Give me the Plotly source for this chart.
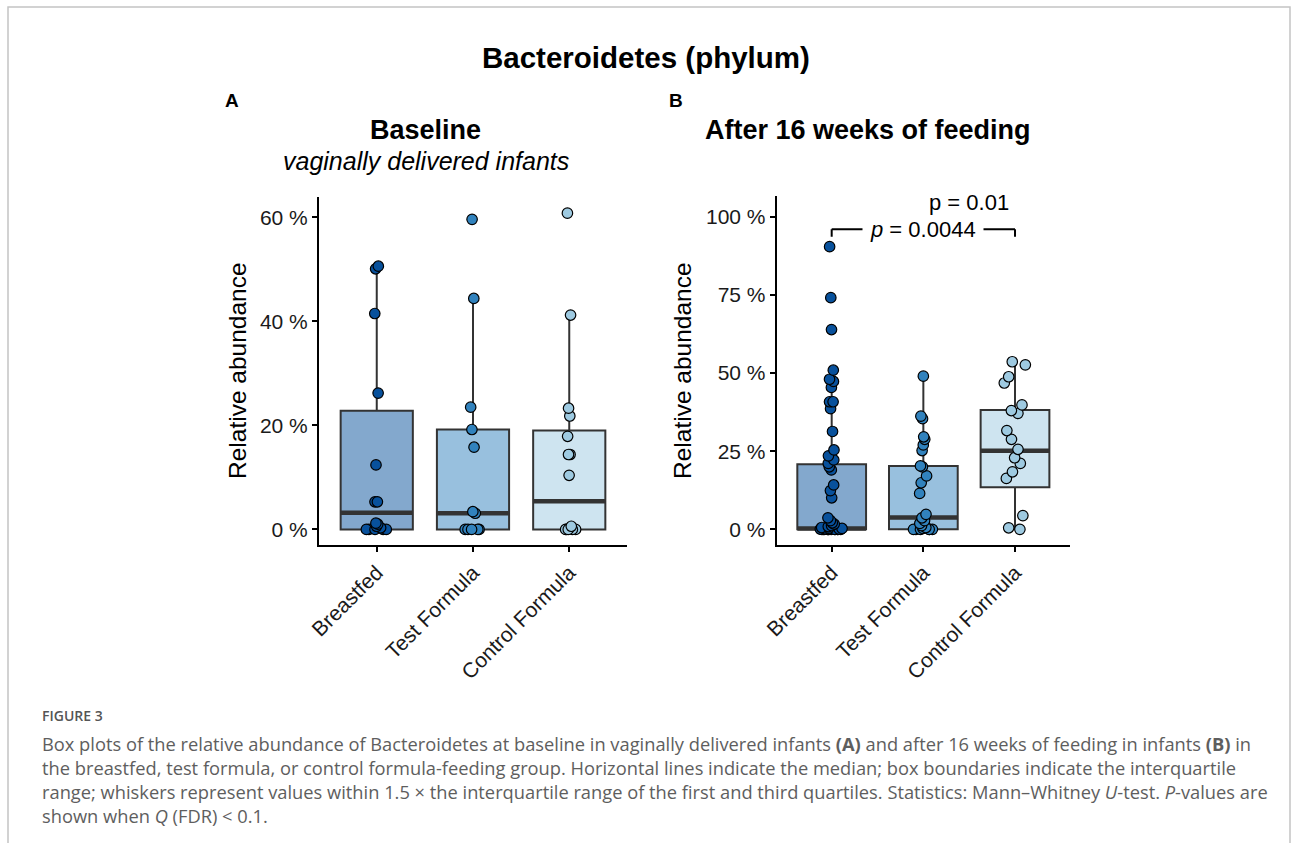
import plotly.graph_objects as go

W, H = 1293, 843

categories = ["Breastfed", "Test Formula", "Control Formula"]
point_colors = ["#08519c", "#3182bd", "#9ecae1"]
fill_colors = ["rgba(8,81,156,0.5)", "rgba(49,130,189,0.5)", "rgba(158,202,225,0.5)"]

# Panel A (baseline) - relative abundance (%)
a_breastfed = [50.1, 50.6, 41.5, 26.2, 12.4, 5.3, 5.3, 1.2, 1.0, 0.6, 0.3, 0, 0, 0, 0, 0]
a_test = [59.6, 44.4, 23.5, 19.2, 15.8, 3.1, 3.4, 0, 0, 0, 0, 0]
a_control = [60.8, 41.2, 23.3, 21.8, 17.9, 14.4, 14.4, 10.4, 0.6, 0, 0, 0, 0, 0]
a_q1 = [0, 0, 0]
a_median = [3.2, 3.1, 5.4]
a_q3 = [22.8, 19.2, 19.0]
a_lower = [0, 0, 0]
a_upper = [50.6, 44.4, 41.2]

# Panel B (after 16 weeks)
b_breastfed = [90.4, 74.1, 63.9, 50.9, 48.0, 47.3, 45.4, 40.8, 40.8, 38.6, 31.3, 25.4,
               23.5, 22.2, 21.1, 20.0, 19.0, 14.2, 12.4, 10.1, 3.7, 2.8, 2.1, 1.7,
               1.2, 0.9, 0.6, 0.4, 0.3, 0.2, 0.1, 0.1, 0, 0, 0, 0, 0, 0, 0, 0, 0, 0, 0, 0]
b_test = [49.0, 36.2, 35.4, 29.6, 28.8, 27.0, 25.2, 20.3, 20.0, 17.1, 14.9, 11.5,
          4.8, 3.7, 2.8, 1.9, 1.2, 0.6, 0.3, 0, 0, 0, 0, 0, 0]
b_control = [53.6, 52.6, 48.8, 46.8, 39.8, 38.0, 37.1, 31.6, 28.8, 25.6, 22.9, 21.1,
             18.4, 16.3, 4.4, 0.5, 0]
b_q1 = [0, 0, 13.5]
b_median = [0.3, 3.8, 25.1]
b_q3 = [20.8, 20.3, 38.2]
b_lower = [0, 0, 0]
b_upper = [50.9, 49.0, 53.6]

a_ticks = [0, 20, 40, 60]
a_ticktext = ["0 %", "20 %", "40 %", "60 %"]
b_ticks = [0, 25, 50, 75, 100]
b_ticktext = ["0 %", "25 %", "50 %", "75 %", "100 %"]

sig_label = "<i>p</i> = 0.0044"
sig_y = 96.0
sig_tick = 93.6
top_label = "p = 0.01"
top_label_y = 104.5

caption_head = "FIGURE 3"
caption_lines = [
    "Box plots of the relative abundance of Bacteroidetes at baseline in vaginally delivered infants <b>(A)</b> and after 16 weeks of feeding in infants <b>(B)</b> in",
    "the breastfed, test formula, or control formula-feeding group. Horizontal lines indicate the median; box boundaries indicate the interquartile",
    "range; whiskers represent values within 1.5 \u00d7 the interquartile range of the first and third quartiles. Statistics: Mann\u2013Whitney <i>U</i>-test. <i>P</i>-values are",
    "shown when <i>Q</i> (FDR) &lt; 0.1.",
]

FONT = "Liberation Sans, Arial, sans-serif"
CAP_FONT = "Open Sans, sans-serif"


def px(x):
    return x / W


def py(y):
    return 1 - y / H


fig = go.Figure()

panels = [
    ("x", "y", [a_breastfed, a_test, a_control], a_q1, a_median, a_q3, a_lower, a_upper),
    ("x2", "y2", [b_breastfed, b_test, b_control], b_q1, b_median, b_q3, b_lower, b_upper),
]

for xa, ya, groups, q1, med, q3, lo, hi in panels:
    for i, cat in enumerate(categories):
        fig.add_trace(go.Box(
            x=[cat], q1=[q1[i]], median=[med[i]], q3=[q3[i]],
            lowerfence=[lo[i]], upperfence=[hi[i]],
            xaxis=xa, yaxis=ya, width=0.75, whiskerwidth=0,
            fillcolor=fill_colors[i], line=dict(color="#333333", width=2),
            boxpoints=False, showlegend=False, hoverinfo="skip"))
        fig.add_trace(go.Box(
            x=[cat], q1=[med[i]], median=[med[i]], q3=[med[i]],
            lowerfence=[med[i]], upperfence=[med[i]],
            xaxis=xa, yaxis=ya, width=0.75, whiskerwidth=0,
            fillcolor="rgba(0,0,0,0)", line=dict(color="#333333", width=4.5),
            boxpoints=False, showlegend=False, hoverinfo="skip"))
        fig.add_trace(go.Box(
            x=[cat] * len(groups[i]), y=groups[i],
            xaxis=xa, yaxis=ya, width=0.75, whiskerwidth=0,
            fillcolor="rgba(0,0,0,0)", line=dict(color="rgba(0,0,0,0)", width=0),
            boxpoints="all", jitter=0.34, pointpos=0,
            marker=dict(color=point_colors[i], size=10.5, line=dict(color="black", width=1.2)),
            showlegend=False))

common_x = dict(type="category", categoryorder="array", categoryarray=categories,
                range=[-0.6, 2.6], showline=True, linecolor="black", linewidth=2,
                ticks="outside", ticklen=5, tickwidth=2, tickcolor="black",
                tickangle=-45, showgrid=False, zeroline=False, automargin=False,
                tickfont=dict(family=FONT, size=21, color="#1a1a1a"))
common_y = dict(showline=True, linecolor="black", linewidth=2,
                ticks="outside", ticklen=5, tickwidth=2, tickcolor="black",
                showgrid=False, zeroline=False, automargin=False,
                tickfont=dict(family=FONT, size=21, color="#1a1a1a"))

fig.update_layout(
    width=W, height=H, margin=dict(l=0, r=0, t=0, b=0, pad=0, autoexpand=False),
    paper_bgcolor="white", plot_bgcolor="white", boxmode="overlay",
    xaxis=dict(common_x, domain=[px(319), px(627)], anchor="y"),
    yaxis=dict(common_y, domain=[py(545), py(197)], anchor="x", range=[-3.0, 63.9],
               tickvals=a_ticks, ticktext=a_ticktext),
    xaxis2=dict(common_x, domain=[px(776.7), px(1070)], anchor="y2"),
    yaxis2=dict(common_y, domain=[py(545), py(196)], anchor="x2", range=[-5.0, 106.6],
                tickvals=b_ticks, ticktext=b_ticktext),
)

shapes = [
    dict(type="rect", xref="paper", yref="paper", x0=px(8), x1=px(1290), y0=-0.2, y1=py(7),
         line=dict(color="#c4c4c4", width=1.5), fillcolor="rgba(0,0,0,0)", layer="below"),
    dict(type="line", xref="x2", yref="y2", x0=categories[0], x1=categories[2], y0=sig_y, y1=sig_y,
         line=dict(color="black", width=2)),
    dict(type="line", xref="x2", yref="y2", x0=categories[0], x1=categories[0], y0=sig_tick, y1=sig_y,
         line=dict(color="black", width=2)),
    dict(type="line", xref="x2", yref="y2", x0=categories[2], x1=categories[2], y0=sig_tick, y1=sig_y,
         line=dict(color="black", width=2)),
]
fig.update_layout(shapes=shapes)

ann = []


def add(text, x, y, size, bold=False, italic=False, color="black", xanchor="center",
        family=FONT, textangle=0, weight=None, **kw):
    t = text
    if bold:
        t = "<b>" + t + "</b>"
    if italic:
        t = "<i>" + t + "</i>"
    f = dict(family=family, size=size, color=color)
    if weight is not None:
        f["weight"] = weight
    ann.append(dict(text=t, x=x, y=y, xref="paper", yref="paper", showarrow=False,
                    xanchor=xanchor, yanchor="middle", textangle=textangle,
                    font=f, **kw))


add("Bacteroidetes (phylum)", px(646), py(57), 29.5, bold=True)
add("A", px(232), py(101), 19, bold=True)
add("B", px(676), py(101), 19, bold=True)
add("Baseline", px(425), py(130), 27, bold=True)
add("vaginally delivered infants", px(426), py(161), 25, italic=True)
add("After 16 weeks of feeding", px(868), py(130), 27, bold=True)
add("Relative abundance", px(237), py(371), 24.5, textangle=-90)
add("Relative abundance", px(682), py(371), 24.5, textangle=-90)

add(caption_head, px(40), py(715), 14, color="#555555", xanchor="left",
    family=CAP_FONT, weight=600)
for k, line in enumerate(caption_lines):
    add(line, px(40), py(743 + 24 * k), 18.3, color="#5e5e5e", xanchor="left",
        family=CAP_FONT)

ann.append(dict(text=sig_label, x=1, y=sig_y, xref="x2", yref="y2", showarrow=False,
                xanchor="center", yanchor="middle", bgcolor="white", borderpad=7,
                font=dict(family=FONT, size=22, color="black")))
ann.append(dict(text=top_label, x=1.5, y=top_label_y, xref="x2", yref="y2", showarrow=False,
                xanchor="center", yanchor="middle",
                font=dict(family=FONT, size=22, color="black")))

fig.update_layout(annotations=ann)

fig.write_html("out.html")
